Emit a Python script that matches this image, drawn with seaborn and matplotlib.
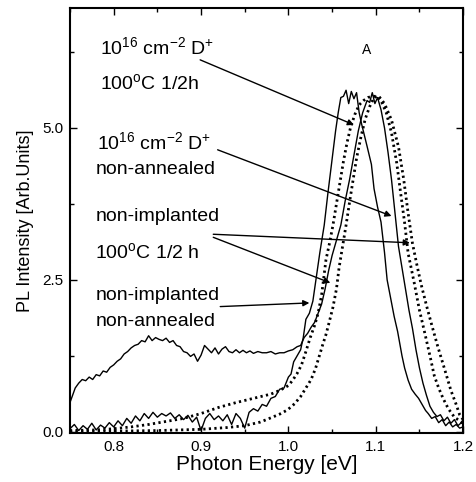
import matplotlib
matplotlib.use("Agg")
import matplotlib.pyplot as plt
import seaborn as sns
import pandas as pd
from matplotlib.ticker import MultipleLocator

# ---------------- data ----------------
# solid curve 1: narrow peak near 1.07 eV, low noisy background
s1_x = [0.750, 0.755, 0.760, 0.765, 0.770, 0.775, 0.780, 0.785, 0.790, 0.795,
        0.800, 0.805, 0.810, 0.815, 0.820, 0.825, 0.830, 0.835, 0.840, 0.845,
        0.850, 0.855, 0.860, 0.865, 0.870, 0.875, 0.880, 0.885, 0.890, 0.895,
        0.900, 0.905, 0.910, 0.915, 0.920, 0.925, 0.930, 0.935, 0.940, 0.945,
        0.950, 0.955, 0.960, 0.965, 0.970, 0.975, 0.980, 0.985, 0.990, 0.995,
        1.000, 1.003, 1.006, 1.010, 1.014, 1.017, 1.020, 1.024, 1.028, 1.032,
        1.036, 1.041, 1.045, 1.048, 1.051, 1.054, 1.057, 1.060, 1.063, 1.066,
        1.069, 1.072, 1.075, 1.078, 1.081, 1.084, 1.090, 1.095, 1.098, 1.102,
        1.106, 1.108, 1.110, 1.113, 1.117, 1.121, 1.125, 1.130, 1.133, 1.137,
        1.141, 1.145, 1.149, 1.153, 1.157, 1.160, 1.164, 1.168, 1.172, 1.176,
        1.180, 1.184, 1.188, 1.192, 1.196, 1.200]
s1_y = [0.05, 0.12, 0.02, 0.10, 0.04, 0.14, 0.03, 0.11, 0.06, 0.15,
        0.08, 0.18, 0.10, 0.22, 0.14, 0.26, 0.18, 0.30, 0.22, 0.32,
        0.24, 0.30, 0.26, 0.31, 0.22, 0.28, 0.20, 0.27, 0.16, 0.24,
        0.02, 0.22, 0.30, 0.20, 0.26, 0.18, 0.28, 0.12, 0.30, 0.22,
        0.06, 0.32, 0.38, 0.34, 0.45, 0.42, 0.55, 0.58, 0.70, 0.72,
        0.90, 0.95, 1.15, 1.25, 1.35, 1.55, 1.85, 1.95, 2.15, 2.55,
        2.95, 3.40, 3.90, 4.25, 4.60, 4.95, 5.25, 5.50, 5.52, 5.62,
        5.40, 5.60, 5.48, 5.58, 5.25, 5.05, 4.70, 4.40, 4.00, 3.70,
        3.45, 3.20, 2.95, 2.50, 2.20, 1.90, 1.65, 1.25, 1.05, 0.85,
        0.70, 0.62, 0.55, 0.45, 0.35, 0.30, 0.22, 0.25, 0.15, 0.20,
        0.10, 0.16, 0.08, 0.12, 0.06, 0.08]

# solid curve 2: broad band near 0.85 eV, peak near 1.10 eV
s2_x = [0.750, 0.753, 0.756, 0.760, 0.764, 0.768, 0.772, 0.776, 0.780, 0.784,
        0.788, 0.792, 0.796, 0.800, 0.804, 0.808, 0.812, 0.816, 0.820, 0.824,
        0.828, 0.832, 0.836, 0.840, 0.844, 0.848, 0.852, 0.856, 0.860, 0.864,
        0.868, 0.872, 0.876, 0.880, 0.884, 0.888, 0.892, 0.896, 0.900, 0.904,
        0.908, 0.912, 0.916, 0.920, 0.924, 0.928, 0.932, 0.936, 0.940, 0.944,
        0.948, 0.952, 0.956, 0.960, 0.965, 0.970, 0.975, 0.980, 0.985, 0.990,
        0.995, 1.000, 1.005, 1.010, 1.014, 1.018, 1.022, 1.026, 1.030, 1.034,
        1.038, 1.042, 1.046, 1.050, 1.055, 1.060, 1.065, 1.070, 1.075, 1.080,
        1.085, 1.090, 1.093, 1.096, 1.099, 1.102, 1.106, 1.110, 1.114, 1.118,
        1.122, 1.126, 1.130, 1.134, 1.138, 1.142, 1.146, 1.150, 1.154, 1.158,
        1.162, 1.166, 1.170, 1.174, 1.178, 1.182, 1.186, 1.190, 1.194, 1.198,
        1.200]
s2_y = [0.48, 0.60, 0.72, 0.80, 0.86, 0.84, 0.90, 0.86, 0.94, 0.92,
        1.00, 0.98, 1.06, 1.10, 1.16, 1.20, 1.28, 1.32, 1.38, 1.42,
        1.44, 1.50, 1.48, 1.58, 1.50, 1.55, 1.52, 1.50, 1.54, 1.47,
        1.50, 1.42, 1.40, 1.32, 1.30, 1.24, 1.28, 1.16, 1.26, 1.42,
        1.36, 1.30, 1.38, 1.28, 1.36, 1.40, 1.32, 1.30, 1.35, 1.30,
        1.34, 1.30, 1.33, 1.29, 1.32, 1.30, 1.30, 1.32, 1.28, 1.30,
        1.30, 1.33, 1.35, 1.40, 1.42, 1.55, 1.62, 1.72, 1.80, 1.95,
        2.10, 2.35, 2.65, 2.90, 3.15, 3.40, 3.80, 4.15, 4.55, 4.95,
        5.25, 5.45, 5.42, 5.58, 5.40, 5.50, 5.30, 5.00, 4.60, 4.15,
        3.60, 3.05, 2.70, 2.35, 2.00, 1.70, 1.35, 1.05, 0.80, 0.60,
        0.42, 0.32, 0.25, 0.28, 0.18, 0.24, 0.14, 0.20, 0.10, 0.15,
        0.12]

# dotted curve 1: with low-energy tail, peak near 1.10 eV
d1_x = [0.750, 0.780, 0.800, 0.820, 0.840, 0.860, 0.880, 0.900, 0.920, 0.940,
        0.960, 0.980, 0.990, 1.000, 1.005, 1.010, 1.015, 1.020, 1.025, 1.030,
        1.034, 1.038, 1.043, 1.047, 1.051, 1.055, 1.059, 1.063, 1.067, 1.071,
        1.076, 1.081, 1.086, 1.091, 1.096, 1.101, 1.106, 1.112, 1.118, 1.124,
        1.129, 1.133, 1.137, 1.144, 1.150, 1.156, 1.162, 1.167, 1.172, 1.177,
        1.183, 1.190, 1.200]
d1_y = [0.02, 0.03, 0.05, 0.08, 0.12, 0.17, 0.22, 0.30, 0.40, 0.48,
        0.55, 0.62, 0.68, 0.76, 0.85, 0.96, 1.10, 1.32, 1.55, 1.75,
        1.95, 2.25, 2.83, 3.10, 3.40, 3.75, 4.10, 4.45, 4.75, 5.00,
        5.22, 5.38, 5.45, 5.50, 5.52, 5.52, 5.45, 5.25, 4.92, 4.42,
        3.87, 3.44, 2.94, 2.45, 2.00, 1.63, 1.25, 0.92, 0.72, 0.55,
        0.38, 0.24, 0.14]

# dotted curve 2: no tail, shifted to higher energy
d2_x = [0.750, 0.800, 0.850, 0.900, 0.930, 0.950, 0.968, 0.980, 0.990, 0.999,
        1.007, 1.014, 1.020, 1.026, 1.031, 1.035, 1.039, 1.043, 1.047, 1.051,
        1.055, 1.058, 1.062, 1.066, 1.070, 1.074, 1.078, 1.083, 1.088, 1.093,
        1.098, 1.103, 1.110, 1.118, 1.126, 1.132, 1.137, 1.142, 1.147, 1.152,
        1.158, 1.164, 1.171, 1.179, 1.186, 1.192, 1.196, 1.200]
d2_y = [0.00, 0.01, 0.02, 0.04, 0.07, 0.10, 0.16, 0.23, 0.29, 0.36,
        0.46, 0.58, 0.72, 0.86, 1.04, 1.23, 1.42, 1.60, 1.82, 2.05,
        2.35, 2.70, 3.05, 3.40, 3.78, 4.14, 4.50, 4.85, 5.15, 5.35,
        5.50, 5.53, 5.40, 5.13, 4.69, 4.15, 3.60, 3.10, 2.75, 2.42,
        2.08, 1.76, 1.40, 1.02, 0.68, 0.45, 0.28, 0.20]

x_ticks = [0.8, 0.9, 1.0, 1.1, 1.2]
x_tick_labels = ["0.8", "0.9", "1.0", "1.1", "1.2"]
y_ticks = [0.0, 2.5, 5.0]
y_tick_labels = ["0.0", "2.5", "5.0"]

# ---------------- plot ----------------
sns.set_theme(style="ticks")
plt.rcParams["font.family"] = ["Liberation Sans", "DejaVu Sans"]
plt.rcParams["mathtext.fontset"] = "custom"
plt.rcParams["mathtext.rm"] = "Liberation Sans"
plt.rcParams["mathtext.it"] = "Liberation Sans"

fig = plt.figure(figsize=(4.76, 4.82), dpi=100)
ax = fig.add_axes([0.147, 0.1017, 0.826, 0.8813])

df_s1 = pd.DataFrame({"E": s1_x, "I": s1_y})
df_s2 = pd.DataFrame({"E": s2_x, "I": s2_y})
df_d1 = pd.DataFrame({"E": d1_x, "I": d1_y})
df_d2 = pd.DataFrame({"E": d2_x, "I": d2_y})

sns.lineplot(data=df_s1, x="E", y="I", ax=ax, color="black", lw=1.0,
             sort=False, estimator=None)
sns.lineplot(data=df_s2, x="E", y="I", ax=ax, color="black", lw=1.0,
             sort=False, estimator=None)
sns.lineplot(data=df_d1, x="E", y="I", ax=ax, color="black", lw=2.0,
             linestyle=(0, (0.8, 1.2)), sort=False, estimator=None)
sns.lineplot(data=df_d2, x="E", y="I", ax=ax, color="black", lw=2.0,
             linestyle=(0, (0.8, 1.2)), sort=False, estimator=None)

ax.set_xlim(0.75, 1.2)
ax.set_ylim(-0.02, 6.97)
ax.set_xticks(x_ticks)
ax.set_xticklabels(x_tick_labels)
ax.set_yticks(y_ticks)
ax.set_yticklabels(y_tick_labels)
ax.xaxis.set_minor_locator(MultipleLocator(0.05))
ax.yaxis.set_minor_locator(MultipleLocator(1.25))
ax.tick_params(which="both", direction="in", top=True, right=True,
               color="black", width=1.0)
ax.tick_params(which="major", length=5, labelsize=11, labelcolor="black", pad=5)
ax.tick_params(which="minor", length=3)
for sp in ax.spines.values():
    sp.set_linewidth(1.5)
    sp.set_color("black")

ax.set_xlabel("Photon Energy [eV]", fontsize=15, color="black", labelpad=1)
ax.set_ylabel("PL Intensity [Arb.Units]", fontsize=13, color="black", labelpad=6)

tkw = dict(fontsize=14, color="black", ha="left", va="center")
ax.text(0.784, 6.33, r"10$^{16}$ cm$^{-2}$ D$^{+}$", **tkw)
ax.text(0.784, 5.74, r"100$^{o}$C 1/2h", **tkw)
ax.text(0.781, 4.77, r"10$^{16}$ cm$^{-2}$ D$^{+}$", **tkw)
ax.text(0.780, 4.31, "non-annealed", **tkw)
ax.text(0.779, 3.54, "non-implanted", **tkw)
ax.text(0.779, 2.96, r"100$^{o}$C 1/2 h", **tkw)
ax.text(0.779, 2.25, "non-implanted", **tkw)
ax.text(0.779, 1.81, "non-annealed", **tkw)
ax.text(1.089, 6.28, "A", fontsize=10, color="black", ha="center", va="center")

apk = dict(arrowstyle="-|>", color="black", lw=1.0, mutation_scale=9,
           shrinkA=0, shrinkB=0)
ax.annotate("", xy=(1.075, 5.05), xytext=(0.899, 6.12), arrowprops=apk)
ax.annotate("", xy=(1.118, 3.55), xytext=(0.919, 4.64), arrowprops=apk)
ax.annotate("", xy=(1.139, 3.11), xytext=(0.914, 3.25), arrowprops=apk)
ax.annotate("", xy=(1.048, 2.45), xytext=(0.914, 3.20), arrowprops=apk)
ax.annotate("", xy=(1.024, 2.12), xytext=(0.922, 2.06), arrowprops=apk)

fig.savefig("out.png", dpi=100)
